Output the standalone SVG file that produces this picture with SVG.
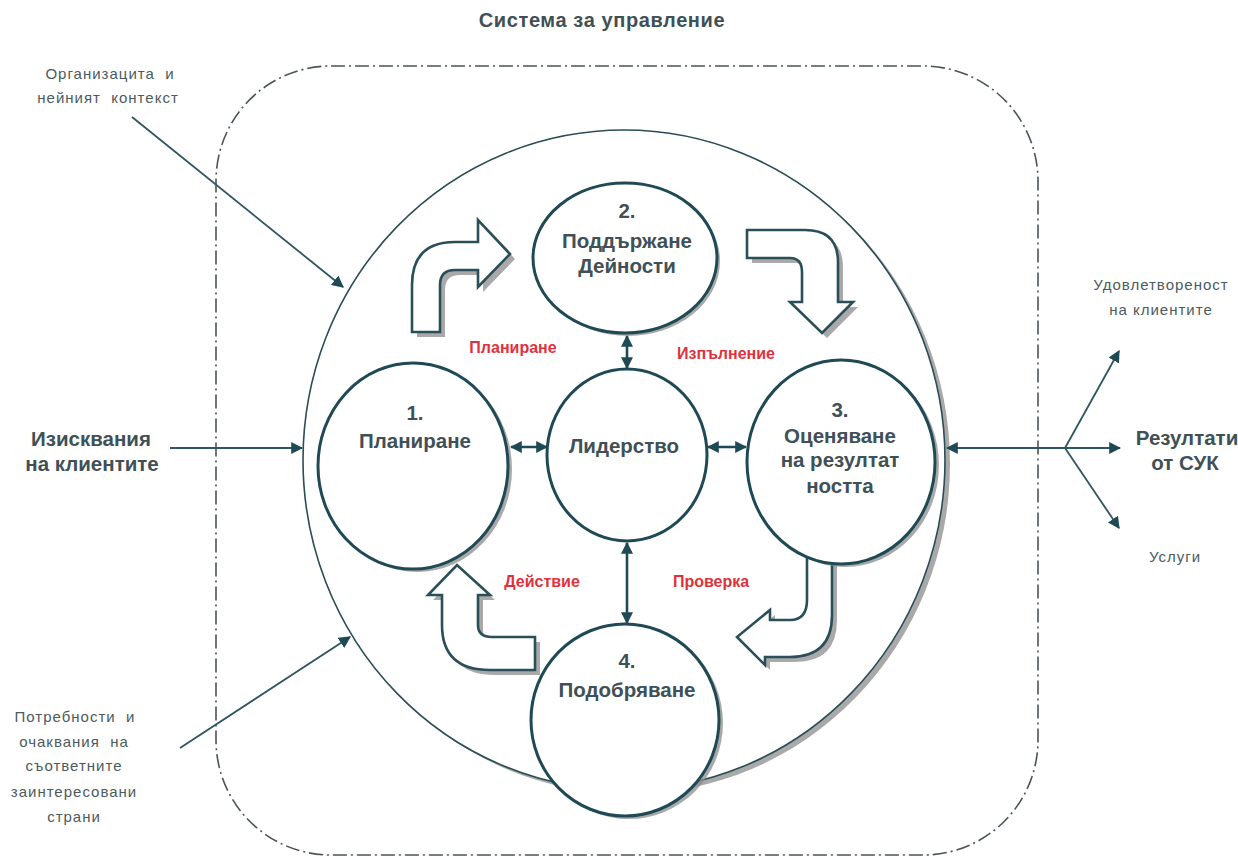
<svg xmlns="http://www.w3.org/2000/svg" width="1238" height="860" viewBox="0 0 1238 860">
<defs>
<style>
.frame{fill:none;stroke:#4a5458;stroke-width:1.6;stroke-dasharray:14 4 2 4}
.big{fill:#fff;stroke:#2b4d56;stroke-width:1.6}
.node{fill:#fff;stroke:#1f4a55;stroke-width:3}
.shadow{fill:#8c8c8c;opacity:0.75}
.barrow{fill:#fff;stroke:#2a4f58;stroke-width:2.6;stroke-linejoin:miter}
.conn{fill:none;stroke:#1f4a55;stroke-width:2.6}
.thin{fill:none;stroke:#2f5560;stroke-width:1.8}
.nt{font-family:"Liberation Sans",Arial,sans-serif;font-weight:bold;font-size:20.5px;fill:#3f5056;text-anchor:middle}
.big-t{font-family:"Liberation Sans",Arial,sans-serif;font-weight:bold;font-size:20.5px;fill:#3f5056;text-anchor:middle}
.title{font-family:"Liberation Sans",Arial,sans-serif;font-weight:bold;font-size:20px;letter-spacing:0.6px;fill:#3f5056;text-anchor:middle}
.red{font-family:"Liberation Sans",Arial,sans-serif;font-weight:bold;font-size:16px;fill:#e0323c;text-anchor:middle}
.sm{font-family:"Liberation Sans",Arial,sans-serif;font-size:15px;fill:#4b5b61;text-anchor:middle;letter-spacing:1px;white-space:pre}
</style>
<marker id="ah" viewBox="0 0 10 10" refX="9" refY="5" markerWidth="12" markerHeight="12" markerUnits="userSpaceOnUse" orient="auto-start-reverse">
<path d="M0,0 L10,5 L0,10 z" fill="#1f4a55"/>
</marker>
</defs>

<text x="602" y="27" class="title">Система за управление</text>

<g id="frame">
<rect class="frame" x="216" y="66" width="822" height="789" rx="115" ry="115"/>
</g>

<g id="system-circle">
<ellipse class="shadow" cx="629" cy="464" rx="321" ry="330"/>
<ellipse class="big" cx="624" cy="460" rx="321" ry="330"/>
</g>

<g id="block-arrows">
<g id="arrow-plan">
<path class="shadow" transform="translate(5,5)" d="M412 332 L412 285 Q412 242 455 242 L478 242 L478 220 L510 254 L478 287 L478 270 L455 270 Q440 270 440 285 L440 332 Z"/>
<path class="barrow" d="M412 332 L412 285 Q412 242 455 242 L478 242 L478 220 L510 254 L478 287 L478 270 L455 270 Q440 270 440 285 L440 332 Z"/>
</g>
<g id="arrow-do">
<path class="shadow" transform="translate(5,5)" d="M747 230 L805 230 Q838 230 838 262 L838 302 L853 302 L822 333 L790 302 L802 302 L802 272 Q802 258 790 258 L747 258 Z"/>
<path class="barrow" d="M747 230 L805 230 Q838 230 838 262 L838 302 L853 302 L822 333 L790 302 L802 302 L802 272 Q802 258 790 258 L747 258 Z"/>
</g>
<g id="arrow-check">
<path class="shadow" transform="translate(5,5)" d="M807 557 L832 557 L832 615 Q832 657 790 657 L765 657 L765 665 L737 637 L770 610 L770 620 L790 620 Q807 620 807 600 Z"/>
<path class="barrow" d="M807 557 L832 557 L832 615 Q832 657 790 657 L765 657 L765 665 L737 637 L770 610 L770 620 L790 620 Q807 620 807 600 Z"/>
</g>
<g id="arrow-act">
<path class="shadow" transform="translate(5,5)" d="M535 637 L535 670 L490 670 Q442 670 442 625 L442 595 L428 595 L457 565 L490 595 L478 595 L478 625 Q478 637 492 637 Z"/>
<path class="barrow" d="M535 637 L535 670 L490 670 Q442 670 442 625 L442 595 L428 595 L457 565 L490 595 L478 595 L478 625 Q478 637 492 637 Z"/>
</g>
</g>

<g id="connectors">
<line class="conn" x1="627" y1="336" x2="627" y2="368" marker-start="url(#ah)" marker-end="url(#ah)"/>
<line class="conn" x1="627" y1="543" x2="627" y2="623" marker-start="url(#ah)" marker-end="url(#ah)"/>
<line class="conn" x1="511" y1="447" x2="547" y2="447" marker-start="url(#ah)" marker-end="url(#ah)"/>
<line class="conn" x1="708" y1="447" x2="746" y2="447" marker-start="url(#ah)" marker-end="url(#ah)"/>
<line class="thin" x1="170" y1="448" x2="302" y2="448" marker-end="url(#ah)"/>
<line class="thin" x1="132" y1="117" x2="343" y2="287" marker-end="url(#ah)"/>
<line class="thin" x1="180" y1="748" x2="350" y2="637" marker-end="url(#ah)"/>
<line class="thin" x1="947" y1="448" x2="1065" y2="448" marker-start="url(#ah)"/>
<line class="thin" x1="1065" y1="448" x2="1119" y2="351" marker-end="url(#ah)"/>
<line class="thin" x1="1065" y1="448" x2="1120" y2="448" marker-end="url(#ah)"/>
<line class="thin" x1="1065" y1="448" x2="1119" y2="528" marker-end="url(#ah)"/>
</g>

<g id="node-2">
<ellipse class="shadow" cx="628" cy="261" rx="92" ry="75"/>
<ellipse class="node" cx="625" cy="258" rx="92" ry="75"/>
<text class="nt" x="627" y="218">2.</text>
<text class="nt" x="627" y="248">Поддържане</text>
<text class="nt" x="627" y="273">Дейности</text>
</g>

<g id="node-1">
<ellipse class="shadow" cx="417" cy="469" rx="95" ry="103"/>
<ellipse class="node" cx="413" cy="466" rx="95" ry="103"/>
<text class="nt" x="415" y="420">1.</text>
<text class="nt" x="415" y="448">Планиране</text>
</g>

<g id="node-leadership">
<ellipse class="node" cx="627" cy="455" rx="80" ry="86"/>
<text class="nt" x="624" y="453">Лидерство</text>
</g>

<g id="node-3">
<ellipse class="shadow" cx="845" cy="465" rx="94" ry="102"/>
<ellipse class="node" cx="841" cy="462" rx="94" ry="102"/>
<text class="nt" x="840" y="417">3.</text>
<text class="nt" x="840" y="443">Оценяване</text>
<text class="nt" x="840" y="467">на резултат</text>
<text class="nt" x="840" y="493">ността</text>
</g>

<g id="node-4">
<ellipse class="shadow" cx="629" cy="723" rx="94" ry="96"/>
<ellipse class="node" cx="625" cy="720" rx="94" ry="96"/>
<text class="nt" x="627" y="668">4.</text>
<text class="nt" x="627" y="697">Подобряване</text>
</g>

<g id="phase-labels">
<text class="red" x="513" y="353">Планиране</text>
<text class="red" x="726" y="359">Изпълнение</text>
<text class="red" x="542" y="587">Действие</text>
<text class="red" x="711" y="587">Проверка</text>
</g>

<g id="outer-labels">
<text class="sm" x="110" y="79">Организацита  и</text>
<text class="sm" x="108" y="103">нейният  контекст</text>
<text class="big-t" x="91" y="446">Изисквания</text>
<text class="big-t" x="92" y="471">на клиентите</text>
<text class="sm" x="75" y="722">Потребности  и</text>
<text class="sm" x="74" y="747">очаквания  на</text>
<text class="sm" x="74" y="771">съответните</text>
<text class="sm" x="74" y="797">заинтересовани</text>
<text class="sm" x="74" y="822">страни</text>
<text class="sm" x="1161" y="290">Удовлетвореност</text>
<text class="sm" x="1161" y="315">на клиентите</text>
<text class="big-t" x="1187" y="445">Резултати</text>
<text class="big-t" x="1185" y="470">от СУК</text>
<text class="sm" x="1175" y="562">Услуги</text>
</g>
</svg>
